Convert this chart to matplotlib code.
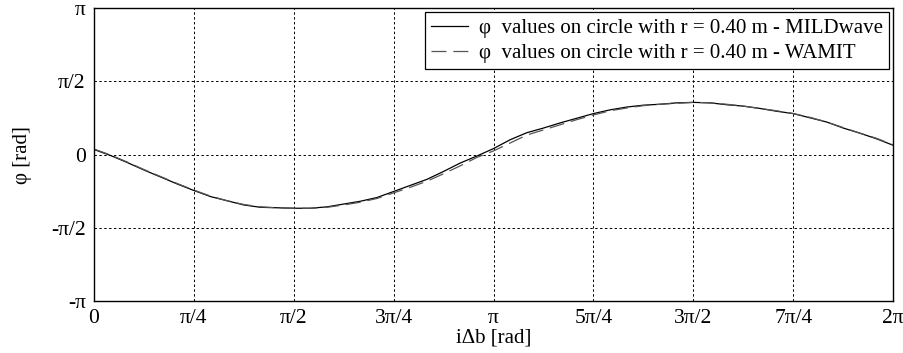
import numpy as np
import matplotlib
matplotlib.use("Agg")
import matplotlib.pyplot as plt

# angle steps of pi/24 around the circle
n_steps = 48
angle_step = np.pi / 24

phi_mildwave = [0.11, -0.02, -0.17, -0.33, -0.48, -0.63, -0.77, -0.90, -0.99,
                -1.08, -1.13, -1.14, -1.15, -1.15, -1.12, -1.06, -1.00, -0.92,
                -0.79, -0.66, -0.53, -0.36, -0.18, -0.03, 0.13, 0.32, 0.47,
                0.57, 0.68, 0.78, 0.88, 0.96, 1.02, 1.06, 1.08, 1.11, 1.12,
                1.11, 1.07, 1.04, 0.99, 0.93, 0.88, 0.79, 0.70, 0.57, 0.46,
                0.34, 0.20]
phi_wamit = [0.12, -0.01, -0.16, -0.32, -0.47, -0.62, -0.76, -0.89, -0.99,
             -1.07, -1.12, -1.14, -1.15, -1.15, -1.13, -1.08, -1.02, -0.94,
             -0.82, -0.70, -0.57, -0.41, -0.24, -0.06, 0.08, 0.25, 0.42,
             0.53, 0.64, 0.75, 0.85, 0.94, 1.00, 1.05, 1.08, 1.10, 1.12,
             1.11, 1.08, 1.04, 0.99, 0.94, 0.88, 0.80, 0.70, 0.58, 0.46,
             0.35, 0.21]

x_ticks = np.arange(0, 9) * np.pi / 4
x_labels = ['0', 'π/4', 'π/2', '3π/4', 'π', '5π/4', '3π/2', '7π/4', '2π']
y_ticks = np.arange(-2, 3) * np.pi / 2
y_labels = ['-π', '-π/2', '0', 'π/2', 'π']

plt.rcParams['font.family'] = ['Liberation Serif', 'DejaVu Serif']
plt.rcParams['font.size'] = 15.5

x = np.arange(n_steps + 1) * angle_step

fig = plt.figure(figsize=(9.04, 3.53), dpi=100)
ax = fig.add_axes([0.104, 0.147, 0.884, 0.830])

ax.plot(x, phi_mildwave, color='black', linewidth=0.9,
        label='φ  values on circle with r = 0.40 m - MILDwave')
ax.plot(x, phi_wamit, color='#555555', linewidth=0.9, linestyle=(0, (12, 5.5)),
        label='φ  values on circle with r = 0.40 m - WAMIT')

ax.set_xlim(0, 2 * np.pi)
ax.set_ylim(-np.pi, np.pi)
ax.set_xticks(x_ticks)
ax.set_xticklabels(x_labels)
ax.set_yticks(y_ticks)
ax.set_yticklabels(y_labels)
ax.tick_params(length=0, pad=6)
ax.grid(True, color='black', linestyle=(0, (2.5, 2.5)), linewidth=0.7)
for s in ax.spines.values():
    s.set_linewidth(1.0)

ax.set_xlabel('iΔb [rad]', fontsize=15, labelpad=0)
ax.set_ylabel('φ [rad]', fontsize=15, labelpad=14)

leg = ax.legend(loc='upper right', fancybox=False, framealpha=1, fontsize=15,
                edgecolor='black', handlelength=1.8, borderaxespad=0.2,
                borderpad=0.3, labelspacing=0.25, handletextpad=0.5)
leg.get_frame().set_linewidth(0.9)

fig.savefig('out.png', dpi=100)
